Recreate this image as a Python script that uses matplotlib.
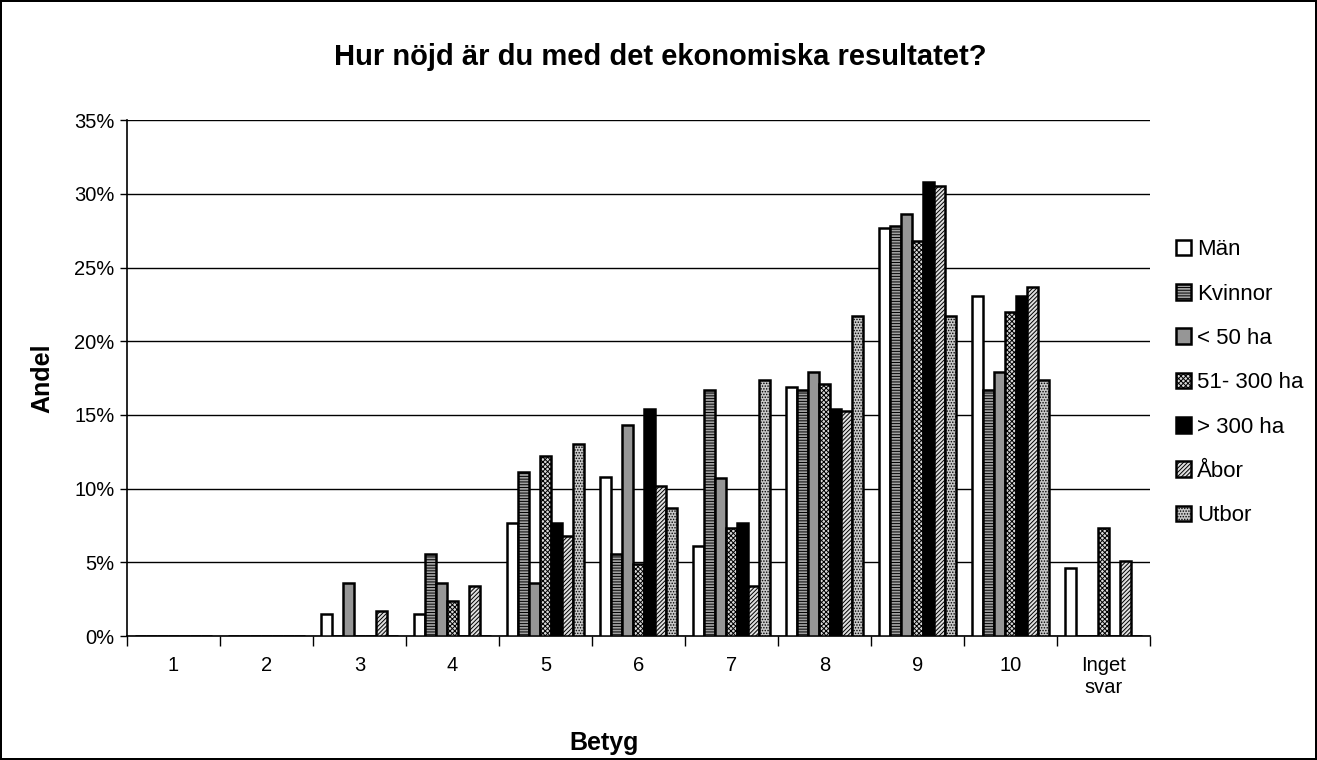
import matplotlib
matplotlib.use("Agg")
import matplotlib.pyplot as plt
import numpy as np

plt.rcParams['font.family'] = ['Liberation Sans', 'DejaVu Sans']
plt.rcParams['hatch.linewidth'] = 0.7

categories = ['1', '2', '3', '4', '5', '6', '7', '8', '9', '10', 'Inget\nsvar']
series = ['Män', 'Kvinnor', '< 50 ha', '51- 300 ha', '> 300 ha', 'Åbor', 'Utbor']

man = [0, 0, 1.5, 1.5, 7.7, 10.8, 6.1, 16.9, 27.7, 23.1, 4.6]
kvinnor = [0, 0, 0, 5.6, 11.1, 5.6, 16.7, 16.7, 27.8, 16.7, 0]
under50 = [0, 0, 3.6, 3.6, 3.6, 14.3, 10.7, 17.9, 28.6, 17.9, 0]
mid = [0, 0, 0, 2.4, 12.2, 4.9, 7.3, 17.1, 26.8, 22.0, 7.3]
over300 = [0, 0, 0, 0, 7.7, 15.4, 7.7, 15.4, 30.8, 23.1, 0]
abor = [0, 0, 1.7, 3.4, 6.8, 10.2, 3.4, 15.3, 30.5, 23.7, 5.1]
utbor = [0, 0, 0, 0, 13.0, 8.7, 17.4, 21.7, 21.7, 17.4, 0]

values = [man, kvinnor, under50, mid, over300, abor, utbor]
faces = ['white', '#a0a0a0', '#969696', '#d8d8d8', 'black', '#e0e0e0', '#c8c8c8']
hatches = [None, '------', None, 'xxxxxxx', None, '////////', '......']

fig = plt.figure(figsize=(13.17, 7.6), dpi=100)
fig.patch.set_edgecolor('black')
fig.patch.set_linewidth(1.5)
ax = fig.add_axes([0.0964, 0.163, 0.777, 0.679])

n = len(series)
w = 1 / (n + 1.5)
x = np.arange(len(categories))
for i, (name, vals) in enumerate(zip(series, values)):
    pos = x - 0.5 + 0.75 * w + (i + 0.5) * w
    ax.bar(pos, np.array(vals) / 100, w, label=name, color=faces[i],
           hatch=hatches[i], edgecolor='black', linewidth=1.8, zorder=3)

ax.set_xlim(-0.5, len(categories) - 0.5)
ax.set_ylim(0, 0.35)
ax.set_yticks(np.arange(0, 0.351, 0.05))
ax.set_yticklabels([f'{int(round(v * 100))}%' for v in np.arange(0, 0.351, 0.05)])
ax.set_xticks(x)
ax.set_xticklabels(categories)
ax.set_xticks(np.arange(-0.5, len(categories)), minor=True)
ax.tick_params(axis='x', which='major', length=0, pad=14, labelsize=14.5)
ax.tick_params(axis='x', which='minor', length=7, width=1)
ax.tick_params(axis='y', length=5, width=1, labelsize=14.5, pad=4)
ax.grid(axis='y', color='black', linewidth=1, zorder=0)
for s in ['top', 'right']:
    ax.spines[s].set_visible(False)
for s in ['left', 'bottom']:
    ax.spines[s].set_linewidth(1.2)

ax.set_title('Hur nöjd är du med det ekonomiska resultatet?', fontsize=21,
             fontweight='bold', pad=40, x=0.521)
ax.set_xlabel('Betyg', fontsize=18, fontweight='bold')
ax.xaxis.set_label_coords(0.466, -0.183)
ax.set_ylabel('Andel', fontsize=18, fontweight='bold', labelpad=14)

fig.legend(loc='upper left', bbox_to_anchor=(0.886, 0.697), frameon=False,
           fontsize=16, handlelength=0.7, handleheight=0.7, handletextpad=0.25,
           labelspacing=1.05, borderaxespad=0)

fig.savefig('out.png', dpi=100)
